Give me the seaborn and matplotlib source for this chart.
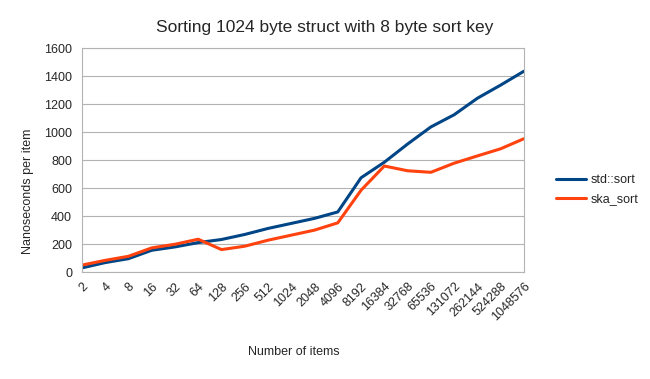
import matplotlib
matplotlib.use("Agg")
import matplotlib.pyplot as plt
import seaborn as sns
import pandas as pd

# valeurs (ns par élément)
items = ["2", "4", "8", "16", "32", "64", "128", "256", "512", "1024", "2048",
         "4096", "8192", "16384", "32768", "65536", "131072", "262144",
         "524288", "1048576"]
std_sort = [30, 68, 96, 156, 180, 211, 233, 269, 312, 348, 384,
            430, 674, 785, 915, 1037, 1124, 1242, 1336, 1435]
ska_sort = [50, 84, 113, 173, 199, 235, 161, 185, 228, 264, 300,
            352, 585, 758, 724, 713, 778, 830, 881, 953]

df = pd.DataFrame({
    "items": items * 2,
    "ns": std_sort + ska_sort,
    "algo": ["std::sort"] * len(items) + ["ska_sort"] * len(items),
})

sns.set_style("white")
plt.rcParams["font.family"] = ["Liberation Sans", "DejaVu Sans"]

fig = plt.figure(figsize=(6.5, 3.79), dpi=100)
ax = fig.add_axes([0.126, 0.282, 0.68, 0.591])

sns.lineplot(data=df, x="items", y="ns", hue="algo", sort=False,
             palette={"std::sort": "#004586", "ska_sort": "#ff420e"},
             linewidth=2.2, ax=ax)

ax.set_xlim(0, len(items) - 1)
ax.set_ylim(0, 1600)
ax.set_yticks(range(0, 1601, 200))
ax.yaxis.grid(True, color="#b3b3b3", linewidth=0.8)
ax.set_axisbelow(True)
for s in ax.spines.values():
    s.set_color("#b3b3b3")
    s.set_linewidth(0.8)

ax.tick_params(axis="x", length=4, color="#b3b3b3", labelsize=9, pad=2)
ax.tick_params(axis="y", length=4, color="#b3b3b3", labelsize=9, pad=3)
plt.setp(ax.get_xticklabels(), rotation=45, ha="right", va="top",
         rotation_mode="anchor")

# titre et légendes centrés sur la figure entière, comme LibreOffice
fig.suptitle("Sorting 1024 byte struct with 8 byte sort key", fontsize=12.5,
             x=0.5, y=0.928, va="center")
ax.set_xlabel("Number of items", fontsize=9)
ax.xaxis.set_label_coords(0.48, -0.33)
ax.set_ylabel("Nanoseconds per item", fontsize=9)
ax.yaxis.set_label_coords(-0.109, 0.362)

ax.legend(loc="center left", bbox_to_anchor=(0.838, 0.5),
          bbox_transform=fig.transFigure, frameon=False,
          fontsize=9, handlelength=2.4, handletextpad=0.35, labelspacing=0.55)

fig.savefig("out.png", dpi=100)
